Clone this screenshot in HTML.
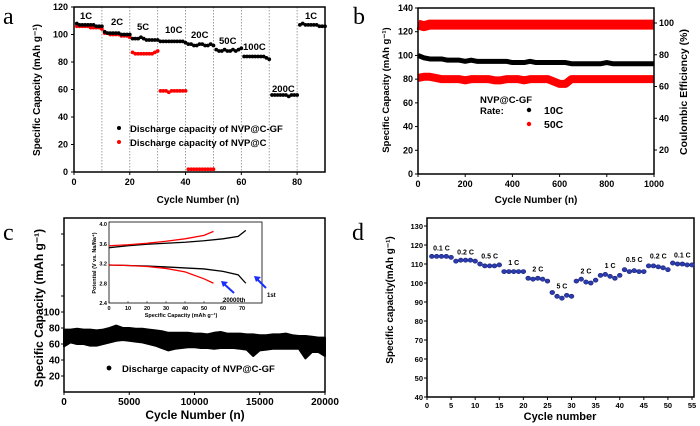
<!DOCTYPE html>
<html><head><meta charset="utf-8"><style>
html,body{margin:0;padding:0;background:#fff}
svg{display:block;font-family:"Liberation Sans",Arial,sans-serif;font-weight:bold}
.t{font-size:9px}
.ti{font-size:5.5px}
.lt{font-family:"Liberation Serif",serif;font-weight:normal;font-size:24px}
</style></head><body>
<svg id="fig" width="700" height="426" viewBox="0 0 700 426">
<rect width="700" height="426" fill="#fff"/>
</svg>
<script>
// ---- Panel a data ----
const aCycles=[1,2,3,4,5,6,7,8,9,10,11,12,13,14,15,16,17,18,19,20,21,22,23,24,25,26,27,28,29,30,31,32,33,34,35,36,37,38,39,40,41,42,43,44,45,46,47,48,49,50,51,52,53,54,55,56,57,58,59,60,61,62,63,64,65,66,67,68,69,70,71,72,73,74,75,76,77,78,79,80,81,82,83,84,85,86,87,88,89,90];
const aGF=[108,107,107,107,107,107,107,106,106,106,102,101,101,101,101,101,100,100,100,100,97,97,97,98,97,96,96,96,96,96,95,95,95,95,95,95,95,95,95,94,93,93,92,92,93,93,92,92,93,92,89,88,88,89,88,88,89,88,89,90,84,84,84,84,84,84,84,84,83,82,56,56,56,56,56,56,55,56,56,56,107,108,107,107,107,107,107,106,106,106];
const aCcycles=[1,2,3,4,5,6,7,8,9,10,11,12,13,14,15,16,17,18,19,20,21,22,23,24,25,26,27,28,29,30,31,32,33,34,35,36,37,38,39,40,41,42,43,44,45,46,47,48,49,50];
const aC=[106,106,106,106,106,105,105,105,105,104,101,101,100,100,100,100,99,99,99,98,87,86,86,86,86,86,86,86,87,88,59,59,59,58,59,59,59,59,59,59,2,2,2,2,2,2,2,2,2,2];
const aXTicks=[0,20,40,60,80];
const aYTicks=[0,20,40,60,80,100,120];
const aRates=["1C","2C","5C","10C","20C","50C","100C","200C","1C"];
// ---- Panel b data ----
const bCycles=[0,25,50,75,100,125,150,175,200,225,250,275,300,325,350,375,400,425,450,475,500,525,550,575,600,625,650,675,700,725,750,775,800,825,850,875,900,925,950,975,1000];
const b10C=[100,98,97,97,97,96,96,96,95,96,95,95,95,95,95,95,94,94,94,95,94,94,94,94,94,94,93,93,93,93,93,93,94,93,93,93,93,93,93,93,93];
const b50C=[81,82,82,81,80,80,80,80,79,80,80,80,80,79,79,80,80,80,79,80,80,80,80,78,76,76,80,80,80,80,80,80,80,80,80,80,80,80,80,80,80];
const bCE=[99,98,99,99,99,99,99,99,99,99,99,99,99,99,99,99,99,99,99,99,99,99,99,99,99,99,99,99,99,99,99,99,99,99,99,99,99,99,99,99,99];
const bXTicks=[0,200,400,600,800,1000];
const bYTicks=[0,20,40,60,80,100,120,140];
const bY2Ticks=[20,40,60,80,100];
// ---- Panel c data ----
const cCycles=[0,500,1000,1500,2000,2500,3000,3500,4000,4500,5000,5500,6000,6500,7000,7500,8000,8500,9000,9500,10000,10500,11000,11500,12000,12500,13000,13500,14000,14500,15000,15500,16000,16500,17000,17500,18000,18500,19000,19500,20000];
const cHigh=[78,78,79,78,78,77,78,80,83,80,80,79,79,78,77,76,74,74,74,74,73,73,72,74,75,73,73,73,72,72,71,71,72,72,73,71,70,70,69,68,68];
const cLow=[57,62,60,60,58,58,60,62,64,65,64,63,62,60,58,55,52,54,55,56,56,55,55,54,55,55,55,54,53,45,52,53,54,54,54,54,54,42,50,50,45];
const cXTicks=[0,5000,10000,15000,20000];
const cYTicks=[20,40,60,80,100];
const insCap1=[0,10,20,30,40,50,60,68,72];
const insCh1=[3.52,3.56,3.59,3.61,3.63,3.66,3.70,3.75,3.87];
const insDis1=[3.17,3.16,3.15,3.13,3.11,3.09,3.04,2.97,2.80];
const insCap2=[0,10,20,30,40,50,55];
const insCh2=[3.56,3.58,3.61,3.65,3.70,3.77,3.85];
const insDis2=[3.17,3.16,3.14,3.10,3.03,2.89,2.80];
const insXTicks=[0,10,20,30,40,50,60,70];
const insYTicks=[2.4,2.8,3.2,3.6,4.0];
// ---- Panel d data ----
const dCycles=[1,2,3,4,5,6,7,8,9,10,11,12,13,14,15,16,17,18,19,20,21,22,23,24,25,26,27,28,29,30,31,32,33,34,35,36,37,38,39,40,41,42,43,44,45,46,47,48,49,50,51,52,53,54,55];
const dCap=[114,114,114,114,113.5,111.5,112,112,112,111.5,110,109,109,109,109.5,106,106,106,106,106,102.5,102,102.5,102,101,95,93,92,93.5,93,101,102,100.5,100,101.5,104,104.5,103.5,102.5,104,107,106,106.5,106,106,109,109,108.5,108,107,110.5,110,110,109.5,109.5];
const dXTicks=[0,5,10,15,20,25,30,35,40,45,50,55];
const dYTicks=[40,50,60,70,80,90,100,110,120,130];
const dRates=[["0.1 C",3,117],["0.2 C",8,115],["0.5 C",13,113],["1 C",18,109.5],["2 C",23,106],["5 C",28,97],["2 C",33,105],["1 C",38,108],["0.5 C",43,111],["0.2 C",48,113],["0.1 C",53,113.5]];

const NS="http://www.w3.org/2000/svg";
const svg=document.getElementById('fig');
function mk(tag,attrs,parent,text){const e=document.createElementNS(NS,tag);for(const k in attrs)e.setAttribute(k,attrs[k]);if(text!==undefined)e.textContent=text;(parent||svg).appendChild(e);return e;}
function lin(d0,d1,r0,r1){return v=>r0+(v-d0)*(r1-r0)/(d1-d0);}
function frame(g,x0,y0,x1,y1,w){mk('rect',{x:x0,y:y0,width:x1-x0,height:y1-y0,fill:'none',stroke:'#000','stroke-width':w||1.5},g);}
function title(g,x,y,txt,size,rot){const t=mk('text',{x:x,y:y,'text-anchor':'middle','font-size':size},g,txt);if(rot)t.setAttribute('transform','rotate(-90 '+x+' '+y+')');return t;}

// ===== Panel a =====
(function(){
const g=mk('g',{});


const X=lin(0,90,74,325),Y=lin(0,120,172,7);
const lt=mk('text',{x:3,y:24,class:'lt'},g,'a');

for(let c=10;c<=80;c+=10){const l=mk('line',{x1:X(c),x2:X(c),y1:Y(120),y2:Y(0),stroke:'#888','stroke-dasharray':'1.5 1.5','stroke-width':0.8},g);
}
frame(g,74,7,325,172);
aXTicks.forEach(v=>{mk('line',{x1:X(v),x2:X(v),y1:172,y2:175,stroke:'#000'},g);const t=mk('text',{x:X(v),y:185,'text-anchor':'middle',class:'t'},g,v);
});
aYTicks.forEach(v=>{mk('line',{x1:71,x2:74,y1:Y(v),y2:Y(v),stroke:'#000'},g);const t=mk('text',{x:68,y:Y(v)+3,'text-anchor':'end',class:'t'},g,v);
});
aCcycles.forEach((c,i)=>{const p=mk('circle',{cx:X(c),cy:Y(aC[i]),r:1.9,fill:'#f00'},g);
});
aCycles.forEach((c,i)=>{const p=mk('circle',{cx:X(c),cy:Y(aGF[i]),r:1.9,fill:'#000'},g);
});
const rp=[[80,19],[111,25],[137,30],[165,33],[191,38],[219,44],[243,50],[272,92],[305,19]];
aRates.forEach((r,i)=>{const t=mk('text',{x:rp[i][0],y:rp[i][1],'font-size':'9.5'},g,r);
});
const l1=mk('circle',{cx:119,cy:128,r:2,fill:'#000'},g);
const l2=mk('circle',{cx:119,cy:142,r:2,fill:'#f00'},g);
const t1=mk('text',{x:130,y:132,'font-size':'9.5'},g,'Discharge capacity of NVP@C-GF');
const t2=mk('text',{x:130,y:146,'font-size':'9.5'},g,'Discharge capacity of NVP@C');
const yt=title(g,40,90,'Specific Capacity (mAh g⁻¹)',10,true);
const xt=title(g,198,203,'Cycle Number (n)',10);
})();

// ===== Panel b =====
(function(){
const g=mk('g',{});


const X=lin(0,1000,418,654),Y=lin(0,140,174,8),Y2=lin(20,100,150,23);
const lt=mk('text',{x:353,y:24,class:'lt'},g,'b');

function band(vals,sc,w,col,name){const pts=bCycles.map((c,i)=>X(c)+','+sc(vals[i])).join(' ');const p=mk('polyline',{points:pts,fill:'none',stroke:col,'stroke-width':w,'stroke-linejoin':'round'},g);
}
band(bCE,Y2,10,'#f00','coulombic-efficiency-band');
band(b10C,Y,5,'#000','capacity-10c-band');
band(b50C,Y,8,'#f00','capacity-50c-band');
frame(g,418,8,654,174);
bXTicks.forEach(v=>{mk('line',{x1:X(v),x2:X(v),y1:174,y2:177,stroke:'#000'},g);const t=mk('text',{x:X(v),y:187,'text-anchor':'middle',class:'t'},g,v);
});
bYTicks.forEach(v=>{mk('line',{x1:415,x2:418,y1:Y(v),y2:Y(v),stroke:'#000'},g);const t=mk('text',{x:413,y:Y(v)+3,'text-anchor':'end',class:'t'},g,v);
});
bY2Ticks.forEach(v=>{mk('line',{x1:654,x2:657,y1:Y2(v),y2:Y2(v),stroke:'#000'},g);const t=mk('text',{x:659,y:Y2(v)+3,class:'t'},g,v);
});
const a=mk('text',{x:480,y:103,'font-size':'9.5'},g,'NVP@C-GF');
const b=mk('text',{x:480,y:114,'font-size':'9.5'},g,'Rate:');
const m1=mk('circle',{cx:529,cy:110,r:2.2,fill:'#000'},g);
const m2=mk('circle',{cx:529,cy:124,r:2.2,fill:'#f00'},g);
const c1=mk('text',{x:544,y:114,'font-size':'10.5'},g,'10C');
const c2=mk('text',{x:544,y:128,'font-size':'10.5'},g,'50C');
const yt=title(g,389,90,'Specific Capacity (mAh g⁻¹)',9.5,true);
const y2=title(g,687,92,'Coulombic Efficiency (%)',10.5,true);
const xt=title(g,536,203,'Cycle Number (n)',10);
})();

// ===== Panel c =====
(function(){
const g=mk('g',{});


const X=lin(0,20000,64,325),Y=lin(0,100,392,312);
const lt=mk('text',{x:3,y:240,class:'lt'},g,'c');

const up=cCycles.map((c,i)=>X(c)+','+Y(cHigh[i]));const lo=cCycles.map((c,i)=>X(c)+','+Y(cLow[i])).reverse();
const ar=mk('polygon',{points:up.concat(lo).join(' '),fill:'#000',stroke:'#000','stroke-width':2,'stroke-linejoin':'round'},g);

frame(g,64,218,325,392);
cXTicks.forEach(v=>{mk('line',{x1:X(v),x2:X(v),y1:392,y2:395,stroke:'#000'},g);const t=mk('text',{x:X(v),y:405,'text-anchor':'middle','font-size':'10'},g,v);
});
cYTicks.forEach(v=>{mk('line',{x1:61,x2:64,y1:Y(v),y2:Y(v),stroke:'#000'},g);const t=mk('text',{x:60,y:Y(v)+3.5,'text-anchor':'end','font-size':'10'},g,v);
});
[234,265,296].forEach(yy=>mk('line',{x1:61,x2:64,y1:yy,y2:yy,stroke:'#000'},g));
const lm=mk('circle',{cx:109,cy:368,r:2.4,fill:'#000'},g);
const lt2=mk('text',{x:122,y:372,'font-size':'9.5'},g,'Discharge capacity of NVP@C-GF');
const yt=title(g,43,308,'Specific Capacity (mAh g⁻¹)',12,true);
const xt=title(g,195,419,'Cycle Number (n)',12);
// inset
const gi=mk('g',{},g);


const IX=lin(0,70,109,242),IY=lin(2.4,4.0,303,224);
mk('rect',{x:109,y:222,width:153,height:81,fill:'#fff',stroke:'#000','stroke-width':0.8},gi);
function cur(xs,ys,col,name){const p=mk('polyline',{points:xs.map((x,i)=>IX(x)+','+IY(ys[i])).join(' '),fill:'none',stroke:col,'stroke-width':1.3},gi);
}
cur(insCap1,insCh1,'#000','charge-1st');cur(insCap1,insDis1,'#000','discharge-1st');
cur(insCap2,insCh2,'#f00','charge-20000th');cur(insCap2,insDis2,'#f00','discharge-20000th');
insXTicks.forEach(v=>{mk('line',{x1:IX(v),x2:IX(v),y1:303,y2:301,stroke:'#000','stroke-width':0.5},gi);const t=mk('text',{x:IX(v),y:310,'text-anchor':'middle',class:'ti'},gi,v);
});
insYTicks.forEach(v=>{const t=mk('text',{x:107,y:IY(v)+2,'text-anchor':'end',class:'ti'},gi,v.toFixed(1));
});
const ixt=mk('text',{x:181,y:317,'text-anchor':'middle','font-size':'5.5'},gi,'Specific Capacity (mAh g⁻¹)');
const iyt=title(gi,96,263,'Potential (V vs. Na/Na⁺)',5.5,true);
mk('line',{x1:234,y1:293,x2:223,y2:283,stroke:'#1a2cff','stroke-width':2},gi);
mk('polygon',{points:'221,281 228,282 223,287',fill:'#1a2cff'},gi);
mk('line',{x1:266,y1:288,x2:256,y2:278,stroke:'#1a2cff','stroke-width':2},gi);
mk('polygon',{points:'254,276 261,277 256,282',fill:'#1a2cff'},gi);
const a1=mk('text',{x:223,y:302,'font-size':'6'},gi,'20000th');
const a2=mk('text',{x:267,y:297,'font-size':'6'},gi,'1st');
})();

// ===== Panel d =====
(function(){
const g=mk('g',{});


const X=lin(0,55,427,692),Y=lin(40,130,397,226);
const lt=mk('text',{x:352,y:240,class:'lt'},g,'d');

frame(g,427,218,694,397);
dXTicks.forEach(v=>{mk('line',{x1:X(v),x2:X(v),y1:397,y2:400,stroke:'#000'},g);const t=mk('text',{x:X(v),y:408,'text-anchor':'middle','font-size':'7.5'},g,v);
});
dYTicks.forEach(v=>{mk('line',{x1:424,x2:427,y1:Y(v),y2:Y(v),stroke:'#000'},g);const t=mk('text',{x:423,y:Y(v)+3,'text-anchor':'end','font-size':'7.5'},g,v);
});
dCycles.forEach((c,i)=>{const p=mk('ellipse',{cx:X(c),cy:Y(dCap[i]),rx:2.4,ry:2.1,fill:'#2b3cb0',stroke:'#1a2070','stroke-width':0.6},g);
});
dRates.forEach(r=>{const t=mk('text',{x:X(r[1]),y:Y(r[2]),'text-anchor':'middle','font-size':'7'},g,r[0]);
});
const yt=title(g,393,300,'Specific capacity(mAh g⁻¹)',10,true);
const xt=title(g,560,420,'Cycle number',11);
})();
</script>
</body></html>
